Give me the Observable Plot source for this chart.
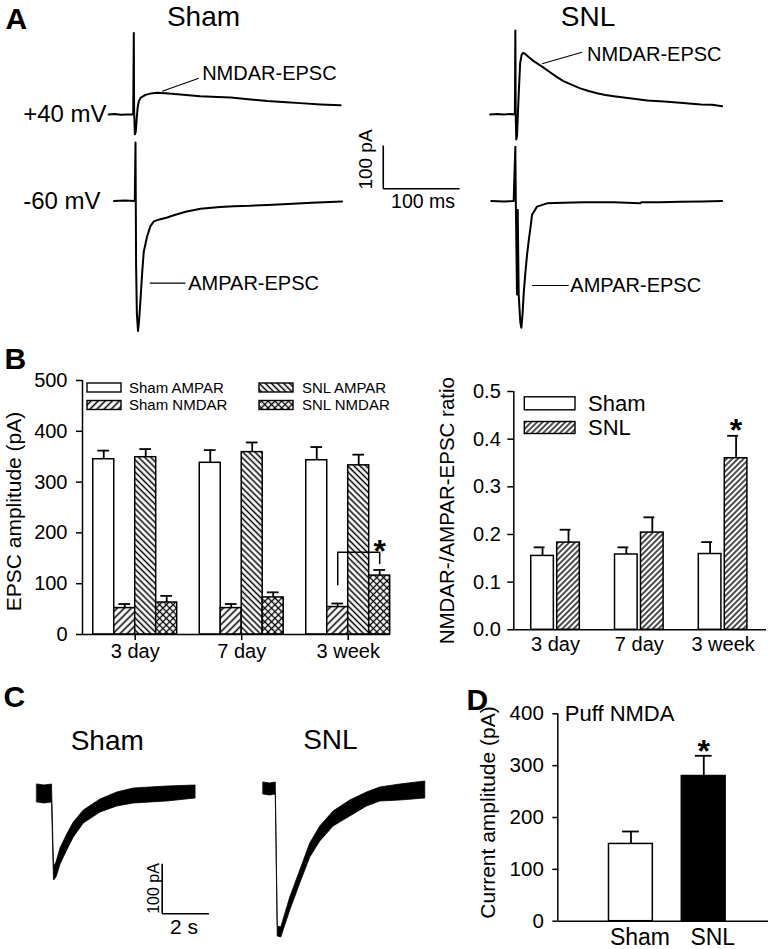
<!DOCTYPE html>
<html><head><meta charset="utf-8">
<script src="https://cdn.jsdelivr.net/npm/d3@7"></script>
<script src="https://cdn.jsdelivr.net/npm/@observablehq/plot@0.6"></script>
<style>
body{margin:0;background:#fff;}
#root{position:relative;width:771px;height:949px;background:#fff;overflow:hidden;font-family:"Liberation Sans",Arial,Helvetica,sans-serif;}
.panel{position:absolute;}
.panel svg{display:block;max-width:none;}
</style></head><body>
<svg width="0" height="0" style="position:absolute">
<defs>
 <pattern id="hSlash" patternUnits="userSpaceOnUse" width="5" height="5" patternTransform="rotate(45)"><rect width="5" height="5" fill="white"/><line x1="2.5" y1="0" x2="2.5" y2="5" stroke="black" stroke-width="1.6"/></pattern>
 <pattern id="hBack" patternUnits="userSpaceOnUse" width="4.3" height="4.3" patternTransform="rotate(-45)"><rect width="4.3" height="4.3" fill="white"/><line x1="2.15" y1="0" x2="2.15" y2="4.3" stroke="black" stroke-width="1.5"/></pattern>
 <pattern id="hCross" patternUnits="userSpaceOnUse" width="4.8" height="4.8" patternTransform="rotate(45)"><rect width="4.8" height="4.8" fill="white"/><line x1="2.4" y1="0" x2="2.4" y2="4.8" stroke="black" stroke-width="1.3"/><line x1="0" y1="2.4" x2="4.8" y2="2.4" stroke="black" stroke-width="1.3"/></pattern>
 <pattern id="hSlashR" patternUnits="userSpaceOnUse" width="4" height="4" patternTransform="rotate(45)"><rect width="4" height="4" fill="white"/><line x1="2" y1="0" x2="2" y2="4" stroke="black" stroke-width="1.4"/></pattern>
</defs></svg>
<div id="root"></div>
<script>
// ================= DATA =================
// Panel A traces: [time (ms from stimulus), current (pA from baseline)]
const shamPos40 = [[-33,0],[-25,1],[-17,-1],[-8,0],[-0.8,0],[0,188],[0.4,10],[1.4,-46],[2.6,-40],[3.8,-10],[5,15],[6.5,30],[8.8,38],[15.3,45],[21.8,48],[30.7,50],[41.5,49],[61,46],[87,42],[110,40],[127,39],[150,35],[175,31],[200,28],[218,26],[245,23],[271,21]];
const shamNeg60 = [[-26,0],[-12,1],[1.3,0],[2.2,135],[3,-150],[4,-260],[5.5,-300],[6.8,-280],[8.8,-227],[11,-165],[13,-118],[17.4,-82],[21.8,-58],[26.2,-47],[35,-42],[43.7,-38],[52.4,-33],[68,-25],[87.4,-18],[113,-14],[131,-12],[152,-11],[175,-9],[202,-7],[233,-4],[273,-1]];
const snlPos40 = [[-33,0],[-24,1],[-15,0],[-6,1],[-0.6,0],[0,194],[0.5,0],[1.2,-58],[2.2,-50],[3.3,0],[4.6,54],[6.3,118],[8.3,138],[10.1,142],[12.5,140],[14.4,137],[19,130],[24,123],[30,116],[37,108],[45,98],[54.7,86],[63,77],[72,70],[85,60],[96,54],[107,49],[118,45],[129,42],[150,37],[173,32],[195,30],[216,27],[243,23],[258,22],[271,19]];
const snlNeg60 = [[-31.5,0],[-15,-1],[-2.2,0],[0,125],[0.6,0],[2.2,-216],[3.1,-20],[4.4,-216],[6.5,-280],[7.9,-293],[9.5,-260],[11.1,-210],[13.2,-165],[15.3,-125],[17.5,-92],[19.7,-63],[21.9,-32],[28.4,-13],[41.5,-5.5],[63,-4],[90,-3],[128.8,-3],[163.8,-5],[165,-3],[190,-3],[216.3,-2],[245,-1],[271,0]];

// Panel B (left): EPSC amplitudes (pA), mean and SEM
const groups = ["3 day", "7 day", "3 week"];
const epscSeries = ["Sham AMPAR", "Sham NMDAR", "SNL AMPAR", "SNL NMDAR"];
const shamAMPAR = [345, 338, 343];
const shamAMPARsem = [17, 25, 26];
const shamNMDAR = [52, 52, 54];
const shamNMDARsem = [8, 8, 7];
const snlAMPAR = [349, 359, 333];
const snlAMPARsem = [16, 19, 21];
const snlNMDAR = [63, 73, 116];
const snlNMDARsem = [13, 10, 11];
const epscTicks = [0, 100, 200, 300, 400, 500];

// Panel B (right): NMDAR/AMPAR ratio
const ratioSeries = ["Sham", "SNL"];
const ratioSham = [0.155, 0.158, 0.159];
const ratioShamSem = [0.018, 0.015, 0.025];
const ratioSNL = [0.183, 0.204, 0.36];
const ratioSNLSem = [0.027, 0.032, 0.047];
const ratioTicks = [0, 0.1, 0.2, 0.3, 0.4, 0.5];

// Panel C: puff NMDA currents, [time (s), upper edge (pA), lower edge (pA)] of the noisy trace
const puffShamTrace = [[-0.668,18,-18],[-0.35,16,-20],[-0.034,18,-18],[0.051,-147,-174],[0.158,-138,-168],[0.33,-110,-142],[0.617,-82,-114],[0.899,-58,-88],[1.328,-34,-60],[2.043,-12,-38],[2.758,2,-26],[3.469,10,-20],[4.9,14,-16],[6.113,16,-10]];
const puffSnlTrace = [[-0.574,22,-2],[-0.3,20,-4],[-0.051,22,-2],[0.034,-266,-286],[0.184,-268,-288],[0.57,-208,-234],[0.998,-154,-180],[1.426,-100,-128],[1.854,-66,-96],[2.424,-36,-66],[3.139,-14,-46],[3.854,2,-26],[4.424,12,-16],[5.28,18,-14],[6.351,24,-10]];

// Panel D: puff NMDA current amplitude (pA)
const puffGroups = ["Sham", "SNL"];
const puffAmp = [149, 280];
const puffSem = [24, 39];
const puffTicks = [0, 100, 200, 300, 400];

// ================= HELPERS =================
const FONT = '"Liberation Sans", Arial, Helvetica, sans-serif';
const baseStyle = {background: "transparent", fontFamily: FONT, fontSize: "20px", color: "black", overflow: "visible"};
const root = document.getElementById("root");
function place(node, left, top) {
  const d = document.createElement("div");
  d.className = "panel";
  d.style.left = left + "px";
  d.style.top = top + "px";
  d.appendChild(node);
  root.appendChild(d);
}
function legend(svg, items) {
  const g = d3.select(svg).append("g").attr("font-family", FONT).attr("fill", "black");
  for (const it of items) {
    g.append("rect").attr("x", it.x).attr("y", it.y - it.h / 2).attr("width", it.w).attr("height", it.h)
      .attr("fill", it.fill).attr("stroke", "black").attr("stroke-width", 1.4);
    g.append("text").attr("x", it.x + it.w + it.gap).attr("y", it.y).attr("dy", "0.35em")
      .attr("font-size", it.fs).attr("text-anchor", "start").text(it.label);
  }
}

// ================= PANEL A =================
const colOffset = {Sham: 0, SNL: 500};        // ms
const rowOffset = {"+40 mV": 200, "-60 mV": 0}; // pA
const aTraces = [
  {cond: "Sham", hold: "+40 mV", pts: shamPos40},
  {cond: "Sham", hold: "-60 mV", pts: shamNeg60},
  {cond: "SNL", hold: "+40 mV", pts: snlPos40},
  {cond: "SNL", hold: "-60 mV", pts: snlNeg60}
];
const aRows = aTraces.flatMap(tr => tr.pts.map(([t, i]) => ({key: tr.cond + tr.hold, t: t + colOffset[tr.cond], i: i + rowOffset[tr.hold]})));
const aLeaders = [
  {x1: 37.2, y1: 253.6, x2: 85.2, y2: 283.6},
  {x1: 21, y1: -189.8, x2: 67.7, y2: -189.8},
  {x1: 535, y1: 316.9, x2: 587.4, y2: 343.6},
  {x1: 521.9, y1: -195.2, x2: 569.9, y2: -195.2}
];
const aLabels = [
  {x: 89.6, y: 295.2, text: "NMDAR-EPSC"},
  {x: 71.3, y: -189.8, text: "AMPAR-EPSC"},
  {x: 594, y: 338.3, text: "NMDAR-EPSC"},
  {x: 572.1, y: -195.2, text: "AMPAR-EPSC"}
];
const aHolds = [{x: -145, y: rowOffset["+40 mV"], text: "+40 mV"}, {x: -145, y: rowOffset["-60 mV"], text: "-60 mV"}];
const aTitles = [{x: 91.3, y: 423.8, text: "Sham"}, {x: 595.3, y: 423.8, text: "SNL"}];
const aScale = {t0: 326.9, i0: 28.2, dt: 100, di: 100};

const plotA = Plot.plot({
  width: 771, height: 340, margin: 0, style: baseStyle,
  x: {domain: [-174.7, 835.7], axis: null},
  y: {domain: [-322.2, 463.0], axis: null},
  marks: [
    Plot.line(aRows, {x: "t", y: "i", z: "key", stroke: "black", strokeWidth: 2, strokeLinejoin: "round"}),
    Plot.link(aLeaders, {x1: "x1", y1: "y1", x2: "x2", y2: "y2", stroke: "black", strokeWidth: 1.1}),
    Plot.text(aLabels, {x: "x", y: "y", text: "text", textAnchor: "start", fontSize: 20}),
    Plot.text(aHolds, {x: "x", y: "y", text: "text", textAnchor: "start", fontSize: 24}),
    Plot.text(aTitles, {x: "x", y: "y", text: "text", fontSize: 28}),
    Plot.link([{x1: aScale.t0, y1: aScale.i0, x2: aScale.t0, y2: aScale.i0 + aScale.di}, {x1: aScale.t0, y1: aScale.i0, x2: aScale.t0 + aScale.dt, y2: aScale.i0}],
      {x1: "x1", y1: "y1", x2: "x2", y2: "y2", stroke: "black", strokeWidth: 1.6}),
    Plot.text(["100 pA"], {x: aScale.t0 - 23.3, y: aScale.i0 + 67.6, text: d => d, rotate: -90, fontSize: 19}),
    Plot.text(["100 ms"], {x: aScale.t0 + 52.1, y: aScale.i0 - 29.4, text: d => d, fontSize: 19.5}),
    Plot.text(["A"], {frameAnchor: "top-left", dx: 5, dy: 7, text: d => d, textAnchor: "start", lineAnchor: "top", fontWeight: "bold", fontSize: 30})
  ]
});
place(plotA, 0, 0);

// ================= PANEL B LEFT =================
const epscMeans = [shamAMPAR, shamNMDAR, snlAMPAR, snlNMDAR];
const epscSems = [shamAMPARsem, shamNMDARsem, snlAMPARsem, snlNMDARsem];
const epscFill = {"Sham AMPAR": "white", "Sham NMDAR": "url(#hSlash)", "SNL AMPAR": "url(#hBack)", "SNL NMDAR": "url(#hCross)"};
const BW = 0.197;
const epscRows = groups.flatMap((g, gi) => epscSeries.map((s, si) => ({
  group: g, series: s, value: epscMeans[si][gi], sem: epscSems[si][gi],
  x1: gi + (si - 2) * BW, x2: gi + (si - 1) * BW, xc: gi + (si - 1.5) * BW
})));
const bar = (s, key) => epscRows.find(d => d.group === "3 week" && d.series === s)[key];
const bracket = [
  {x: bar("Sham NMDAR", "xc"), y: 98}, {x: bar("Sham NMDAR", "xc"), y: 162},
  {x: bar("SNL NMDAR", "xc"), y: 162}, {x: bar("SNL NMDAR", "xc"), y: 140}
];
const xMinBL = -0.495;
const plotBL = Plot.plot({
  width: 390, height: 330, marginLeft: 82, marginRight: 0, marginTop: 40, marginBottom: 36, style: baseStyle,
  x: {domain: [xMinBL, 2.397]},
  y: {domain: [0, 500]},
  marks: [
    ...epscSeries.map(s => Plot.rect(epscRows.filter(d => d.series === s), {x1: "x1", x2: "x2", y1: d => 0, y2: "value", fill: epscFill[s], stroke: "black", strokeWidth: 1.5})),
    Plot.ruleX(epscRows, {x: "xc", y1: "value", y2: d => d.value + d.sem, stroke: "black", strokeWidth: 1.8}),
    Plot.ruleY(epscRows, {y: d => d.value + d.sem, x1: d => d.xc - 0.055, x2: d => d.xc + 0.055, stroke: "black", strokeWidth: 1.8}),
    Plot.line(bracket, {x: "x", y: "y", stroke: "black", strokeWidth: 1.5}),
    Plot.text(["*"], {x: bar("SNL NMDAR", "xc"), y: 188, text: d => d, lineAnchor: "top", fontWeight: "bold", fontSize: 32}),
    Plot.ruleY([0], {stroke: "black", strokeWidth: 1.5}),
    Plot.ruleX([xMinBL], {stroke: "black", strokeWidth: 1.5}),
    Plot.axisY({ticks: epscTicks, tickSize: 6, tickPadding: 9, fontSize: 20, strokeWidth: 1.5, label: null}),
    Plot.axisX({ticks: [0, 1, 2], tickFormat: i => groups[i], tickSize: 6, tickPadding: 3, fontSize: 20, strokeWidth: 1.5, label: null}),
    Plot.text(["EPSC amplitude (pA)"], {frameAnchor: "left", dx: -68, dy: 4, rotate: -90, text: d => d, textAnchor: "middle", lineAnchor: "middle", fontSize: 21}),
    Plot.text(["B"], {frameAnchor: "top-left", dx: -78, dy: -33, text: d => d, textAnchor: "start", lineAnchor: "top", fontWeight: "bold", fontSize: 30})
  ]
});
legend(plotBL, [
  {label: "Sham AMPAR", fill: epscFill["Sham AMPAR"], x: 87, y: 47.5, w: 34, h: 9, gap: 8, fs: 15},
  {label: "Sham NMDAR", fill: epscFill["Sham NMDAR"], x: 87, y: 65, w: 34, h: 9, gap: 8, fs: 15},
  {label: "SNL AMPAR", fill: epscFill["SNL AMPAR"], x: 259, y: 47.5, w: 34, h: 9, gap: 9, fs: 15},
  {label: "SNL NMDAR", fill: epscFill["SNL NMDAR"], x: 259, y: 65, w: 34, h: 9, gap: 9, fs: 15}
]);
place(plotBL, 0, 340);

// ================= PANEL B RIGHT =================
const ratioMeans = [ratioSham, ratioSNL];
const ratioSems = [ratioShamSem, ratioSNLSem];
const ratioFill = {Sham: "white", SNL: "url(#hSlashR)"};
const ratioRows = groups.flatMap((g, gi) => ratioSeries.map((s, si) => ({
  group: g, series: s, value: ratioMeans[si][gi], sem: ratioSems[si][gi],
  x1: si === 0 ? gi - 0.29 : gi + 0.02, x2: si === 0 ? gi - 0.02 : gi + 0.29, xc: si === 0 ? gi - 0.155 : gi + 0.155
})));
const xMinBR = -0.498;
const starR = ratioRows.find(d => d.group === "3 week" && d.series === "SNL");
const plotBR = Plot.plot({
  width: 381, height: 330, marginLeft: 123.3, marginRight: 5, marginTop: 51, marginBottom: 40.7, style: baseStyle,
  x: {domain: [xMinBR, 2.518]},
  y: {domain: [0, 0.5]},
  marks: [
    ...ratioSeries.map(s => Plot.rect(ratioRows.filter(d => d.series === s), {x1: "x1", x2: "x2", y1: d => 0, y2: "value", fill: ratioFill[s], stroke: "black", strokeWidth: 1.5})),
    Plot.ruleX(ratioRows, {x: "xc", y1: "value", y2: d => d.value + d.sem, stroke: "black", strokeWidth: 1.8}),
    Plot.ruleY(ratioRows, {y: d => d.value + d.sem, x1: d => d.xc - 0.1, x2: d => d.xc + 0.03, stroke: "black", strokeWidth: 1.8}),
    Plot.text(["*"], {x: starR.xc, y: 0.443, text: d => d, lineAnchor: "top", fontWeight: "bold", fontSize: 32}),
    Plot.ruleY([0], {stroke: "black", strokeWidth: 1.5}),
    Plot.ruleX([xMinBR], {stroke: "black", strokeWidth: 1.5}),
    Plot.axisY({ticks: ratioTicks, tickFormat: d3.format(".1f"), tickSize: 6, tickPadding: 7, fontSize: 20, strokeWidth: 1.5, label: null}),
    Plot.axisX({ticks: [0, 1, 2], tickFormat: i => groups[i], tickSize: 0, tickPadding: 7.4, fontSize: 20, label: null}),
    Plot.text(["NMDAR-/AMPAR-EPSC ratio"], {frameAnchor: "left", dx: -66.3, dy: 0, rotate: -90, text: d => d, textAnchor: "middle", lineAnchor: "middle", fontSize: 20.5})
  ]
});
legend(plotBR, [
  {label: "Sham", fill: ratioFill.Sham, x: 134.3, y: 63.3, w: 50.7, h: 13, gap: 13, fs: 22},
  {label: "SNL", fill: ratioFill.SNL, x: 134.3, y: 87.5, w: 50.7, h: 12, gap: 13, fs: 22}
]);
place(plotBR, 390, 340);

// ================= PANEL C =================
const puffOffset = {Sham: 0, SNL: 9.6}; // s
const cRows = [
  ...puffShamTrace.map(([t, a, b]) => ({key: "Sham", t: t + puffOffset.Sham, top: a, bot: b})),
  ...puffSnlTrace.map(([t, a, b]) => ({key: "SNL", t: t + puffOffset.SNL, top: a, bot: b}))
];
const cTitles = [{x: 2.33, y: 104.6, text: "Sham"}, {x: 11.89, y: 106, text: "SNL"}];
const cScale = {t0: 4.685, i0: -240.6, dt: 2, di: 100};
const plotC = Plot.plot({
  width: 480, height: 279, margin: 0, style: baseStyle,
  x: {domain: [-2.24, 18.317], axis: null},
  y: {domain: [-312, 246], axis: null},
  marks: [
    Plot.area(cRows, {x1: "t", y1: "bot", y2: "top", z: "key", fill: "black", stroke: "black", strokeWidth: 0.8}),
    Plot.link([{x1: cScale.t0, y1: cScale.i0, x2: cScale.t0, y2: cScale.i0 + cScale.di}, {x1: cScale.t0, y1: cScale.i0, x2: cScale.t0 + cScale.dt, y2: cScale.i0}],
      {x1: "x1", y1: "y1", x2: "x2", y2: "y2", stroke: "black", strokeWidth: 1.6}),
    Plot.text(["100 pA"], {x: cScale.t0 - 0.36, y: cScale.i0 + 50.6, text: d => d, rotate: -90, fontSize: 16}),
    Plot.text(["2 s"], {x: cScale.t0 + 0.93, y: cScale.i0 - 27.4, text: d => d, fontSize: 21}),
    Plot.text(cTitles, {x: "x", y: "y", text: "text", fontSize: 28}),
    Plot.text(["C"], {frameAnchor: "top-left", dx: 3, dy: 15, text: d => d, textAnchor: "start", lineAnchor: "top", fontWeight: "bold", fontSize: 30})
  ]
});
place(plotC, 0, 670);

// ================= PANEL D =================
const puffRows = puffGroups.map((g, i) => ({group: g, xc: i, value: puffAmp[i], sem: puffSem[i], fill: i === 0 ? "white" : "black"}));
const xMinD = -1.005;
const plotD = Plot.plot({
  width: 391, height: 279, marginLeft: 177.3, marginRight: 3, marginTop: 43.3, marginBottom: 28.3, style: baseStyle,
  x: {domain: [xMinD, 1.889]},
  y: {domain: [0, 400]},
  color: {type: "identity"},
  marks: [
    Plot.ruleX(puffRows, {x: "xc", y1: "value", y2: d => d.value + d.sem, stroke: "black", strokeWidth: 1.8}),
    Plot.ruleY(puffRows, {y: d => d.value + d.sem, x1: d => d.xc - 0.115, x2: d => d.xc + 0.115, stroke: "black", strokeWidth: 1.8}),
    Plot.rect(puffRows, {x1: d => d.xc - 0.302, x2: d => d.xc + 0.3, y1: d => 0, y2: "value", fill: "fill", stroke: "black", strokeWidth: 1.5}),
    Plot.text(["*"], {x: 1, y: 351.8, text: d => d, lineAnchor: "top", fontWeight: "bold", fontSize: 32}),
    Plot.ruleY([0], {stroke: "black", strokeWidth: 1.5}),
    Plot.ruleX([xMinD], {stroke: "black", strokeWidth: 1.5}),
    Plot.axisY({ticks: puffTicks, tickSize: 5, tickPadding: 9, fontSize: 20.5, strokeWidth: 1.5, label: null}),
    Plot.axisX({ticks: [0, 1], tickFormat: i => puffGroups[i], tickSize: 0, tickPadding: 7.6, dx: 9, fontSize: 23, label: null}),
    Plot.text(["Puff NMDA"], {x: -0.909, y: 400, text: d => d, textAnchor: "start", fontSize: 22}),
    Plot.text(["Current amplitude (pA)"], {frameAnchor: "left", dx: -69.8, dy: -5, rotate: -90, text: d => d, textAnchor: "middle", lineAnchor: "middle", fontSize: 21}),
    Plot.text(["D"], {frameAnchor: "top-left", dx: -91.3, dy: -25.3, text: d => d, textAnchor: "start", lineAnchor: "top", fontWeight: "bold", fontSize: 30})
  ]
});
place(plotD, 380, 670);
</script>
</body></html>
